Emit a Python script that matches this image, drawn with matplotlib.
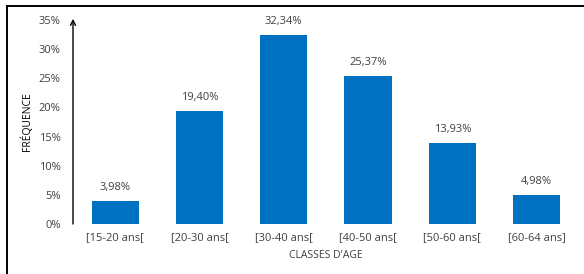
import matplotlib.pyplot as plt
from matplotlib.lines import Line2D

classes = ['[15-20 ans[', '[20-30 ans[', '[30-40 ans[', '[40-50 ans[', '[50-60 ans[', '[60-64 ans]']
frequences = [3.98, 19.40, 32.34, 25.37, 13.93, 4.98]
yticks = [0, 5, 10, 15, 20, 25, 30, 35]

gris = '#404040'
bleu = '#0070C0'
plt.rcParams['font.family'] = ['Open Sans', 'DejaVu Sans']

fig = plt.figure(figsize=(5.84, 2.74), dpi=100)
ax = fig.add_axes([0.125, 0.1825, 0.866, 0.745])

x = range(len(classes))
bars = ax.bar(x, frequences, width=0.56, color=bleu)
for bar, v in zip(bars, frequences):
    ax.text(bar.get_x() + bar.get_width() / 2, v + 1.4,
            f'{v:.2f}%'.replace('.', ','),
            ha='center', va='bottom', fontsize=8, color=gris)

ax.set_xlim(-0.5, len(classes) - 0.5)
ax.set_ylim(0, 35)
ax.set_xticks(list(x))
ax.set_xticklabels(classes, fontsize=8, color=gris)
ax.set_yticks(yticks)
ax.set_yticklabels([f'{t}%' for t in yticks], fontsize=8, color=gris)
ax.tick_params(length=0, pad=6)
ax.tick_params(axis='y', pad=9)

for s in ax.spines.values():
    s.set_visible(False)

# axe vertical avec flèche
ax.annotate('', xy=(0, 1.005), xytext=(0, 0), xycoords='axes fraction',
            arrowprops=dict(arrowstyle='->', color='black', lw=1.0,
                            shrinkA=0, shrinkB=0, mutation_scale=9))

ax.set_xlabel("CLASSES D'AGE", fontsize=7.5, color=gris, labelpad=5)
ax.set_ylabel('FRÉQUENCE', fontsize=7.5, color='black', labelpad=4)

# cadre
fig.add_artist(Line2D([7 / 584, 7 / 584], [0, 1 - 5.5 / 274], color='black', lw=1.4,
                      transform=fig.transFigure))
fig.add_artist(Line2D([7 / 584, 1], [1 - 5.5 / 274, 1 - 5.5 / 274], color='black', lw=1.4,
                      transform=fig.transFigure))

fig.savefig('out.png', dpi=100)
